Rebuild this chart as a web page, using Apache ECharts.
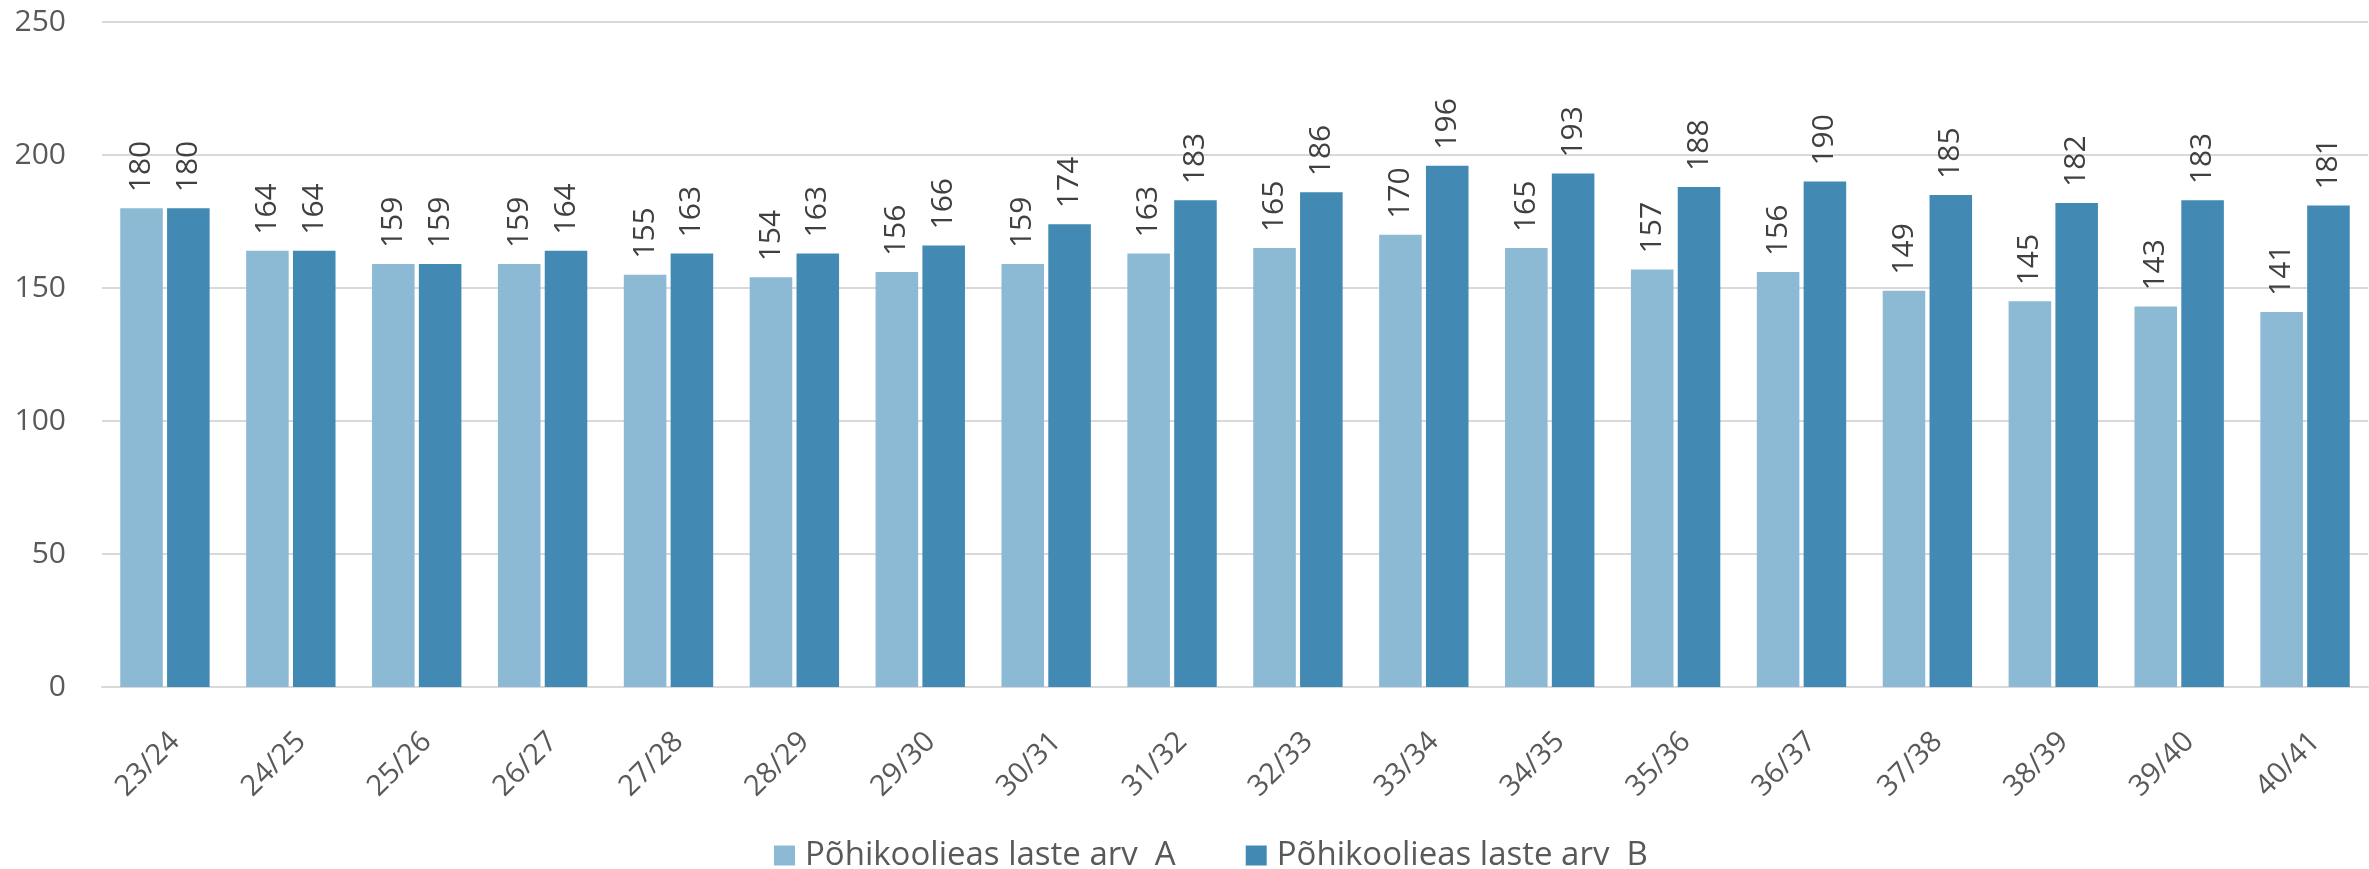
<!DOCTYPE html>
<html>
<head>
<meta charset="utf-8">
<script src="https://cdn.jsdelivr.net/npm/echarts@6/dist/echarts.min.js"></script>
<style>
  html, body { margin: 0; padding: 0; background: #fff; }
  #chart { width: 2369px; height: 869px; }
</style>
</head>
<body>
<div id="chart"></div>
<script>
// School years (sügis/kevad)
const categories = ['23/24','24/25','25/26','26/27','27/28','28/29','29/30','30/31','31/32',
                    '32/33','33/34','34/35','35/36','36/37','37/38','38/39','39/40','40/41'];
const seriesNames = ['Põhikoolieas laste arv  A', 'Põhikoolieas laste arv  B'];
const valuesA = [180,164,159,159,155,154,156,159,163,165,170,165,157,156,149,145,143,141];
const valuesB = [180,164,159,164,163,163,166,174,183,186,196,193,188,190,185,182,183,181];
const yTicks = { min: 0, max: 250, interval: 50 };

const FONT = '"Open Sans", "DejaVu Sans", sans-serif';
const colors = ['#8CBAD4', '#428AB3'];

const barLabel = {
  show: true,
  position: 'top',
  rotate: 90,
  align: 'left',
  verticalAlign: 'middle',
  distance: 16,
  fontFamily: FONT,
  fontSize: 30,
  color: '#404040'
};

const chart = echarts.init(document.getElementById('chart'), null, { renderer: 'canvas' });
chart.setOption({
  animation: false,
  color: colors,
  grid: { left: 102, right: 1, top: 22, bottom: 182, containLabel: false },
  legend: {
    top: 834,
    left: 769,
    itemWidth: 21,
    itemHeight: 20,
    itemGap: 70,
    icon: 'rect',
    textStyle: { fontFamily: FONT, fontSize: 33, color: '#595959', padding: [0, 0, 0, 5] },
    data: seriesNames
  },
  xAxis: {
    type: 'category',
    data: categories,
    axisLine: { show: true, lineStyle: { color: '#D9D9D9', width: 2 } },
    axisTick: { show: false },
    axisLabel: {
      rotate: 45,
      margin: 40,
      verticalAlign: 'top',
      fontFamily: FONT,
      fontSize: 29,
      color: '#595959'
    }
  },
  yAxis: {
    type: 'value',
    min: yTicks.min,
    max: yTicks.max,
    interval: yTicks.interval,
    axisLine: { show: false },
    axisTick: { show: false },
    splitLine: { lineStyle: { color: '#D9D9D9', width: 2 } },
    axisLabel: {
      margin: 36,
      fontFamily: FONT,
      fontSize: 30,
      color: '#595959'
    }
  },
  series: [
    {
      name: seriesNames[0],
      type: 'bar',
      data: valuesA,
      barGap: '10%',
      barCategoryGap: '29%',
      label: barLabel
    },
    {
      name: seriesNames[1],
      type: 'bar',
      data: valuesB,
      barGap: '10%',
      barCategoryGap: '29%',
      label: barLabel
    }
  ]
});
</script>
</body>
</html>
